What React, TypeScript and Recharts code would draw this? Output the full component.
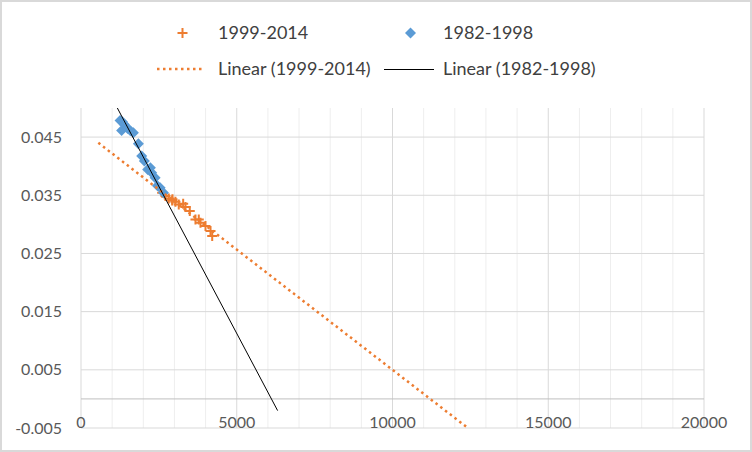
import React from "react"
import {
  ScatterChart,
  Scatter,
  XAxis,
  YAxis,
  CartesianGrid,
  ReferenceLine,
} from "recharts"

// 1999-2014 observations (x, y)
const recent = [
  { x: 2605, y: 0.03543 },
  { x: 2711, y: 0.03487 },
  { x: 2817, y: 0.03446 },
  { x: 2936, y: 0.03432 },
  { x: 2926, y: 0.03411 },
  { x: 3032, y: 0.03389 },
  { x: 3138, y: 0.03342 },
  { x: 3280, y: 0.03354 },
  { x: 3354, y: 0.03298 },
  { x: 3492, y: 0.0323 },
  { x: 3675, y: 0.03085 },
  { x: 3781, y: 0.03085 },
  { x: 3836, y: 0.03028 },
  { x: 3997, y: 0.02972 },
  { x: 4158, y: 0.02886 },
  { x: 4212, y: 0.028 },
]

// 1982-1998 observations (x, y)
const early = [
  { x: 1254, y: 0.04785 },
  { x: 1328, y: 0.04765 },
  { x: 1392, y: 0.04717 },
  { x: 1305, y: 0.04613 },
  { x: 1498, y: 0.04648 },
  { x: 1585, y: 0.04608 },
  { x: 1682, y: 0.04574 },
  { x: 1842, y: 0.04385 },
  { x: 1949, y: 0.04174 },
  { x: 2035, y: 0.04088 },
  { x: 2141, y: 0.03944 },
  { x: 2228, y: 0.03974 },
  { x: 2270, y: 0.03887 },
  { x: 2379, y: 0.03801 },
  { x: 2453, y: 0.03664 },
  { x: 2540, y: 0.03629 },
  { x: 2646, y: 0.03543 },
]

// trendline ends
const recentTrend = [
  { x: 556, y: 0.04402 },
  { x: 12420, y: -0.005 },
]
const earlyTrend = [
  { x: 1167, y: 0.05 },
  { x: 6312, y: -0.00201 },
]

const xTicks = [0, 5000, 10000, 15000, 20000]
const xMinor = [1000, 2000, 3000, 4000, 6000, 7000, 8000, 9000, 11000, 12000, 13000, 14000, 16000, 17000, 18000, 19000]
const yTicks = [-0.005, 0.005, 0.015, 0.025, 0.035, 0.045]

const ORANGE = "#ED7D31"
const BLUE = "#5B9BD5"
const FONT = "Lato, 'Open Sans', sans-serif"

const Diamond = (props: any) => {
  const { cx, cy } = props
  const r = 5.5
  return <polygon points={`${cx},${cy - r} ${cx + r},${cy} ${cx},${cy + r} ${cx - r},${cy}`} fill={BLUE} />
}

const Plus = (props: any) => {
  const { cx, cy } = props
  const r = 5
  return <path d={`M${cx - r},${cy}H${cx + r}M${cx},${cy - r}V${cy + r}`} stroke={ORANGE} strokeWidth={2} fill="none" />
}

const NoDot = () => <g />

const XTick = (props: any) => {
  const { x, y, payload } = props
  return (
    <text x={x} y={y} textAnchor="middle" fill="#595959" fontSize={16} fontFamily={FONT}>
      {payload.value}
    </text>
  )
}

const YTick = (props: any) => {
  const { x, y, payload } = props
  return (
    <text x={x} y={y} dy={5.5} textAnchor="end" fill="#595959" fontSize={16} fontFamily={FONT}>
      {payload.value}
    </text>
  )
}

const legendText: React.CSSProperties = {
  position: "absolute",
  fontFamily: FONT,
  fontSize: 18,
  lineHeight: "20px",
  color: "#404040",
  whiteSpace: "nowrap",
}

function ChartLegend() {
  return (
    <>
      <svg style={{ position: "absolute", left: 0, top: 0 }} width={752} height={100}>
        <Plus cx={182.5} cy={33} />
        <Diamond cx={410.5} cy={33} />
        <line x1={157} y1={69} x2={204} y2={69} stroke={ORANGE} strokeWidth={2.5} strokeDasharray="2.5 3.5" />
        <line x1={384} y1={69.5} x2={434} y2={69.5} stroke="#000" strokeWidth={1} />
      </svg>
      <div style={{ ...legendText, left: 218, top: 22 }}>1999-2014</div>
      <div style={{ ...legendText, left: 443, top: 22 }}>1982-1998</div>
      <div style={{ ...legendText, left: 218, top: 58 }}>Linear (1999-2014)</div>
      <div style={{ ...legendText, left: 443, top: 58 }}>Linear (1982-1998)</div>
    </>
  )
}

export default function App() {
  return (
    <div
      style={{
        position: "absolute",
        left: 0,
        top: 0,
        width: 752,
        height: 452,
        background: "#fff",
        border: "2px solid #d9d9d9",
        boxSizing: "border-box",
      }}
    >
      <div style={{ position: "absolute", left: -2, top: -2 }}>
        <ScatterChart width={752} height={452} margin={{ top: 108, right: 48, bottom: 4, left: 0 }}>
          <CartesianGrid horizontal={false} verticalValues={xMinor} stroke="#eeeeee" />
          <CartesianGrid horizontalValues={yTicks} verticalValues={xTicks} stroke="#d9d9d9" />
          <XAxis
            type="number"
            dataKey="x"
            domain={[0, 20000]}
            ticks={xTicks}
            height={20}
            axisLine={false}
            tickLine={false}
            tickSize={0}
            tickMargin={0}
            tick={<XTick />}
            interval={0}
          />
          <YAxis
            type="number"
            dataKey="y"
            domain={[-0.005, 0.05]}
            ticks={yTicks}
            width={81}
            axisLine={false}
            tickLine={false}
            tickSize={0}
            tickMargin={19}
            tick={<YTick />}
            interval={0}
          />
          <ReferenceLine y={0} stroke="#bfbfbf" strokeWidth={1} />
          <Scatter name="1999-2014" data={recent} shape={<Plus />} isAnimationActive={false} />
          <Scatter name="1982-1998" data={early} shape={<Diamond />} isAnimationActive={false} />
          <Scatter
            name="Linear (1999-2014)"
            data={recentTrend}
            shape={<NoDot />}
            line={{ stroke: ORANGE, strokeWidth: 2.5, strokeDasharray: "2.5 3.5" }}
            isAnimationActive={false}
          />
          <Scatter
            name="Linear (1982-1998)"
            data={earlyTrend}
            shape={<NoDot />}
            line={{ stroke: "#000", strokeWidth: 1 }}
            isAnimationActive={false}
          />
        </ScatterChart>
      </div>
      <div style={{ position: "absolute", left: -2, top: -2 }}>
        <ChartLegend />
      </div>
    </div>
  )
}
